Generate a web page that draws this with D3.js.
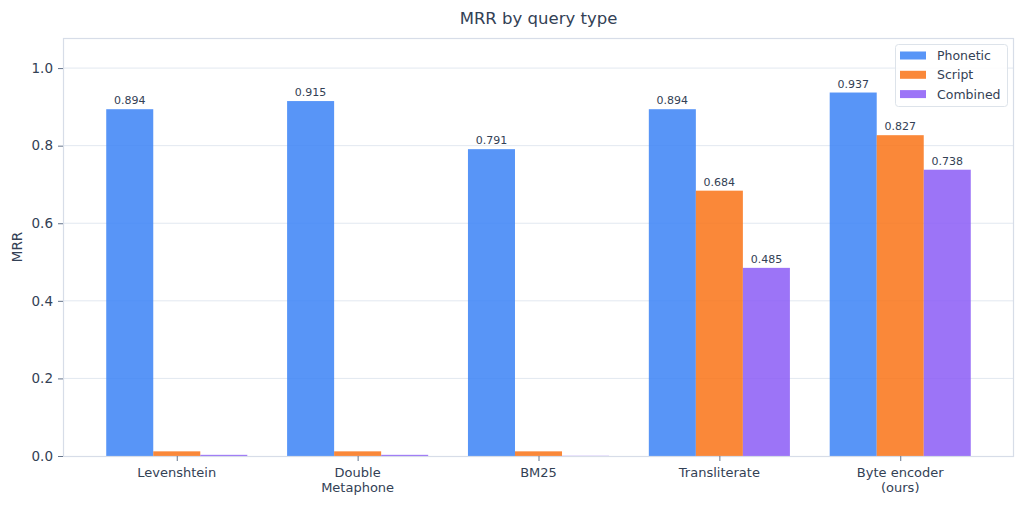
<!DOCTYPE html>
<html><head><meta charset="utf-8">
<script src="https://cdn.jsdelivr.net/npm/d3@7"></script>
<style>
html,body{margin:0;padding:0;background:#fff;}
svg{display:block;font-family:"DejaVu Sans",sans-serif;}
</style></head>
<body><svg id="c" width="1024" height="505"></svg>
<script>
const categories = [["Levenshtein"], ["Double", "Metaphone"], ["BM25"], ["Transliterate"], ["Byte encoder", "(ours)"]];
const seriesNames = ["Phonetic", "Script", "Combined"];
const phonetic = [0.894, 0.915, 0.791, 0.894, 0.937];
const script = [0.012, 0.012, 0.012, 0.684, 0.827];
const combined = [0.003, 0.003, 0.0005, 0.485, 0.738];
const yTicks = [0.0, 0.2, 0.4, 0.6, 0.8, 1.0];
const colors = ["#3b82f6", "#f97316", "#8b5cf6"];
const series = [phonetic, script, combined];

const svg = d3.select("#c");
const L = 63, R = 1014, T = 38, B = 456;
const textCol = "#334155";
const barW = 0.26;
const x = d3.scaleLinear().domain([-0.629, 4.629]).range([L, R]);
const ymax = d3.max(phonetic) * 1.15;
const y = d3.scaleLinear().domain([0, ymax]).range([B, T]);

// gridlines
svg.append("g").selectAll("line").data(yTicks.slice(1)).join("line")
  .attr("x1", L).attr("x2", R).attr("y1", d => y(d)).attr("y2", d => y(d))
  .attr("stroke", "#e2e8f0").attr("stroke-width", 1);

// bars
series.forEach((vals, si) => {
  const items = vals.map((v, i) => ({v, i}));
  const cx = d => x(d.i + (si - 1) * barW);
  svg.append("g").selectAll("rect").data(items).join("rect")
    .attr("x", d => x(d.i + (si - 1) * barW - barW / 2))
    .attr("width", d => x(d.i + (si - 1) * barW + barW / 2) - x(d.i + (si - 1) * barW - barW / 2))
    .attr("y", d => y(d.v))
    .attr("height", d => B - y(d.v))
    .attr("fill", colors[si]).attr("fill-opacity", 0.85);
  svg.append("g").selectAll("text").data(items.filter(d => d.v >= 0.05)).join("text")
    .attr("x", cx)
    .attr("y", d => y(d.v) - 5)
    .attr("text-anchor", "middle")
    .attr("font-size", 11).attr("fill", textCol)
    .text(d => d.v.toFixed(3));
});

// spines
svg.append("rect").attr("x", L + 0.5).attr("y", T + 0.5).attr("width", R - L - 1).attr("height", B - T)
  .attr("fill", "none").attr("stroke", "#d7dde8").attr("stroke-width", 1.2);

// y axis
const yAxis = d3.axisLeft(y).tickValues(yTicks).tickFormat(d3.format(".1f")).tickSize(5).tickPadding(5);
const gy = svg.append("g").attr("transform", `translate(${L},0)`).call(yAxis);
gy.select(".domain").remove();
gy.selectAll(".tick line").attr("stroke", "#64748b");
gy.selectAll(".tick text").attr("font-size", 13.5).attr("fill", textCol).attr("font-family", "DejaVu Sans");

// x axis
const xAxis = d3.axisBottom(x).tickValues(d3.range(categories.length)).tickFormat("").tickSize(5);
const gx = svg.append("g").attr("transform", `translate(0,${B})`).call(xAxis);
gx.select(".domain").remove();
gx.selectAll(".tick line").attr("stroke", "#64748b");
categories.forEach((lines, i) => {
  const t = svg.append("text").attr("x", x(i)).attr("y", 477).attr("text-anchor", "middle")
    .attr("font-size", 13).attr("fill", textCol);
  lines.forEach((ln, j) => t.append("tspan").attr("x", x(i)).attr("dy", j === 0 ? 0 : 15).text(ln));
});

// y label
svg.append("text").attr("transform", `translate(22,${(T + B) / 2}) rotate(-90)`)
  .attr("text-anchor", "middle").attr("font-size", 13.5).attr("fill", textCol).text("MRR");

// title
svg.append("text").attr("x", (L + R) / 2).attr("y", 24).attr("text-anchor", "middle")
  .attr("font-size", 16.5).attr("fill", textCol).text("MRR by query type");

// legend
const lg = svg.append("g");
lg.append("rect").attr("x", 895.5).attr("y", 44.5).attr("width", 112).attr("height", 62).attr("rx", 3)
  .attr("fill", "#fff").attr("fill-opacity", 0.85).attr("stroke", "#dde3ea");
seriesNames.forEach((n, i) => {
  const cy = 55.5 + i * 19.3;
  lg.append("rect").attr("x", 900).attr("y", cy - 4).attr("width", 26).attr("height", 8)
    .attr("fill", colors[i]).attr("fill-opacity", 0.85);
  lg.append("text").attr("x", 937).attr("y", cy + 4.5).attr("font-size", 12.5).attr("fill", textCol).text(n);
});
</script></body></html>
